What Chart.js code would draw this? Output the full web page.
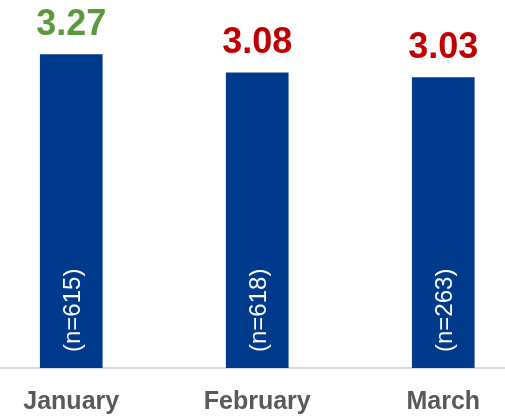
<!DOCTYPE html>
<html lang="en">
  <head>
    <meta charset="UTF-8" />
    <title>Monthly scores</title>
    <style>
      html, body { margin: 0; padding: 0; background: #fff; }
      .wrap { width: 505px; height: 416px; position: relative; }
    </style>
  </head>
  <body>
    <div class="wrap">
      <canvas id="myChart"></canvas>
    </div>
    <script src="https://cdn.jsdelivr.net/npm/chart.js@4.4.0/dist/chart.umd.min.js"></script>
    <script>
      const months = ["January", "February", "March"];
      const scores = [3.27, 3.08, 3.03];
      const counts = [615, 618, 263];

      const BAR_COLOR = "#003A8C";
      const GOOD = "#5A9A3C";
      const BAD = "#C00000";
      const FONT = "'Liberation Sans', Arial, sans-serif";

      // value labels above bars, rotated n counts inside
      const barLabels = {
        id: "barLabels",
        afterDatasetsDraw(chart) {
          const c = chart.ctx;
          const meta = chart.getDatasetMeta(0);
          const bottom = chart.chartArea.bottom;
          meta.data.forEach((bar, i) => {
            c.save();
            c.fillStyle = i === 0 ? GOOD : BAD;
            c.font = "bold 36px " + FONT;
            c.textAlign = "center";
            c.textBaseline = "alphabetic";
            c.fillText(scores[i].toFixed(2), bar.x, bar.y - 20);
            c.restore();

            c.save();
            c.translate(bar.x + 2, bottom - 16);
            c.rotate(-Math.PI / 2);
            c.fillStyle = "#ffffff";
            c.font = "24px " + FONT;
            c.textAlign = "left";
            c.textBaseline = "middle";
            c.fillText("(n=" + counts[i] + ")", 0, 0);
            c.restore();
          });
        },
      };

      const ctx = document.getElementById("myChart");
      const myChart = new Chart(ctx, {
        type: "bar",
        data: {
          datasets: [
            {
              data: scores.map((v, i) => ({ x: i, y: v })),
              backgroundColor: BAR_COLOR,
              barThickness: 62,
            },
          ],
        },
        options: {
          responsive: true,
          maintainAspectRatio: false,
          animation: false,
          layout: { padding: { top: 0, left: 0, right: 0, bottom: -20 } },
          plugins: {
            legend: { display: false },
            tooltip: { enabled: false },
          },
          scales: {
            x: {
              type: "linear",
              offset: false,
              min: -0.383,
              max: 2.332,
              grid: { display: false, drawTicks: false },
              border: { display: true, color: "#D9D9D9", width: 2 },
              ticks: {
                stepSize: 1,
                includeBounds: false,
                maxRotation: 0,
                autoSkip: false,
                padding: 19,
                color: "#595959",
                font: { family: FONT, size: 25, weight: "bold" },
                callback: (v) => (Number.isInteger(v) ? months[v] : ""),
              },
            },
            y: {
              display: false,
              min: 0,
              max: 3.84,
            },
          },
        },
        plugins: [barLabels],
      });
    </script>
  </body>
</html>
